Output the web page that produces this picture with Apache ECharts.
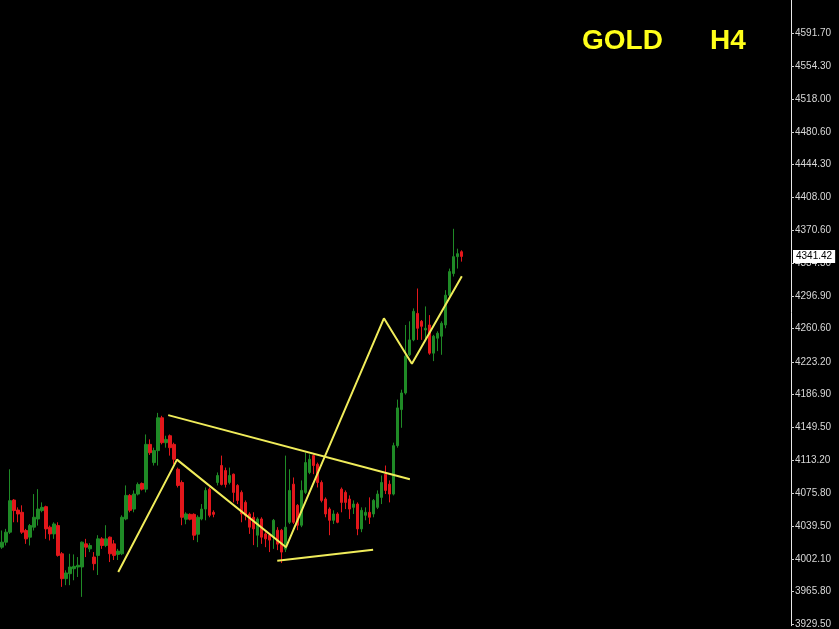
<!DOCTYPE html>
<html>
<head>
<meta charset="utf-8">
<script src="https://cdn.jsdelivr.net/npm/echarts@6/dist/echarts.min.js"></script>
<style>html,body{margin:0;padding:0;background:#000;}#c{width:839px;height:629px;}</style>
</head>
<body>
<div id="c"></div>
<script>
const totalSlots = 198;
const openP = [4015.6,4021.2,4032.4,4068.4,4057.2,4054.7,4034.3,4026.8,4038.0,4047.2,
4056.6,4061.0,4038.0,4030.5,4039.8,4008.2,3980.3,3985.9,3991.5,3993.4,
3993.4,4019.3,4013.7,4004.5,4006.4,4024.9,4017.5,4026.8,4019.3,4007.5,
4008.2,4047.2,4073.6,4058.3,4075.1,4087.0,4080.6,4130.8,4110.4,4123.8,
4160.6,4132.7,4140.5,4130.8,4102.9,4088.1,4046.9,4052.4,4052.4,4030.1,
4047.2,4058.3,4080.6,4054.7,4088.1,4107.1,4101.5,4088.1,4097.4,4084.8,
4077.0,4065.8,4052.8,4049.1,4029.0,4047.2,4030.5,4029.0,4026.8,4034.6,
4034.6,4013.4,4043.5,4086.2,4062.5,4040.2,4077.0,4099.3,4118.2,4108.5,
4088.1,4069.5,4058.3,4045.7,4052.8,4080.6,4077.0,4069.5,4060.2,4063.9,
4036.1,4051.3,4054.7,4052.8,4060.2,4071.4,4097.4,4086.2,4075.1,4129.4,
4169.8,4188.4,4231.2,4247.9,4277.6,4268.7,4259.0,4264.6,4233.0,4249.8,
4252.0,4264.6,4298.0,4322.2,4341.2,4346.7];
const closeP = [4021.2,4032.4,4067.7,4056.6,4052.8,4032.4,4024.9,4039.8,4049.1,4058.3,
4060.2,4036.1,4030.5,4041.6,4006.4,3980.3,3986.7,3993.4,3994.1,3995.3,
4021.2,4015.6,4017.5,3997.1,4024.9,4017.5,4024.9,4008.2,4006.4,4011.2,
4049.1,4073.6,4056.9,4075.1,4085.9,4080.6,4130.8,4121.5,4123.8,4160.6,
4132.7,4136.4,4127.1,4114.1,4084.8,4049.1,4052.8,4046.9,4029.0,4049.1,
4058.3,4079.2,4051.3,4052.4,4095.9,4085.9,4085.9,4095.9,4077.0,4068.0,
4052.8,4051.3,4038.0,4036.1,4047.2,4026.8,4024.9,4023.5,4045.7,4019.0,
4010.1,4038.0,4079.2,4043.5,4040.2,4079.2,4110.4,4114.1,4107.1,4088.1,
4068.0,4052.8,4045.7,4052.8,4043.5,4065.8,4065.8,4058.3,4063.9,4036.1,
4056.9,4054.7,4049.1,4068.0,4075.1,4088.1,4079.2,4075.1,4129.4,4171.7,
4188.4,4229.7,4247.9,4279.9,4260.9,4263.1,4260.9,4233.0,4252.0,4255.3,
4266.5,4298.0,4324.4,4341.2,4344.5,4341.42];
const lowP = [4013.7,4017.5,4030.5,4043.5,4043.5,4030.5,4019.3,4017.5,4034.3,4039.8,
4054.7,4024.9,4023.1,4024.9,4005.0,3971.1,3973.0,3973.0,3978.5,3982.2,
3959.9,4004.5,4010.1,3989.7,3984.4,4013.7,4015.6,3998.9,4001.2,4001.2,
4006.7,4045.7,4054.7,4054.7,4073.6,4079.2,4077.0,4119.0,4107.1,4107.1,
4130.8,4127.1,4118.2,4108.5,4082.5,4040.2,4041.3,4045.7,4023.5,4021.2,
4045.7,4045.7,4049.1,4049.1,4084.8,4084.8,4082.5,4085.9,4065.8,4063.9,
4043.5,4045.7,4030.5,4017.9,4015.6,4019.3,4015.6,4010.1,4013.7,4012.3,
3997.8,4010.1,4041.6,4041.6,4034.6,4038.0,4075.1,4097.4,4097.4,4082.5,
4065.8,4049.1,4029.0,4041.6,4042.4,4054.7,4058.3,4047.2,4052.8,4029.0,
4032.4,4045.7,4041.6,4049.1,4058.3,4063.9,4075.1,4065.8,4073.6,4127.1,
4149.4,4186.6,4229.7,4246.4,4247.9,4247.9,4246.4,4231.2,4224.1,4235.3,
4231.2,4260.9,4294.4,4318.9,4327.8,4335.6];
const highP = [4034.3,4036.1,4102.9,4069.5,4060.2,4062.5,4036.1,4041.6,4075.1,4080.6,
4065.8,4062.1,4039.8,4043.5,4043.5,4010.1,3989.7,4008.2,4007.5,4004.5,
4022.0,4024.9,4020.1,4010.1,4029.0,4026.8,4040.2,4027.5,4023.5,4013.7,
4051.3,4084.8,4075.1,4079.2,4088.1,4088.1,4141.9,4136.4,4127.1,4166.1,
4162.8,4140.5,4141.9,4132.7,4104.8,4090.4,4054.7,4053.5,4053.5,4051.3,
4063.9,4082.5,4082.5,4056.9,4099.3,4118.2,4104.8,4104.8,4098.1,4086.2,
4079.2,4068.0,4054.7,4054.7,4049.1,4049.1,4032.4,4030.5,4047.2,4038.0,
4036.1,4118.2,4102.9,4093.7,4063.9,4090.4,4121.5,4119.6,4119.6,4110.4,
4090.4,4071.4,4060.2,4056.9,4054.7,4082.5,4079.2,4073.6,4068.0,4065.8,
4060.2,4060.2,4071.4,4069.5,4079.2,4095.9,4107.1,4090.4,4132.7,4181.0,
4192.1,4264.6,4268.7,4283.2,4305.5,4270.2,4285.4,4275.7,4253.5,4257.5,
4268.7,4303.6,4327.8,4372.4,4350.1,4348.3];
const tickLabels = ['3929.50','3965.80','4002.10','4039.50','4075.80','4113.20','4149.50','4186.90','4223.20','4260.60','4296.90','4334.30','4370.60','4408.00','4444.30','4480.60','4518.00','4554.30','4591.70'];
const lastPrice = 4341.42;
const zigzagX = [29.6, 44.3, 71.6, 96.1, 103.1, 115.6];
const zigzagY = [3987.8, 4113.7, 4015.6, 4272.1, 4221.1, 4319.2];
const upperX = [42.1, 102.6];
const upperY = [4163.6, 4091.8];
const lowerX = [69.4, 93.4];
const lowerY = [4000.4, 4012.6];

const categories = [];
for (let i = 0; i < totalSlots; i++) categories.push(String(i));
const candles = openP.map((o, i) => [o, closeP[i], lowP[i], highP[i]]);
const pts = (xs, ys) => xs.map((x, i) => [x, ys[i]]);
const YEL = '#f0ec5a';
const lineStyle = { color: YEL, width: 2 };
const FONT = 'Liberation Sans, Arial, sans-serif';

const chart = echarts.init(document.getElementById('c'), null, { renderer: 'canvas' });
chart.setOption({
  backgroundColor: '#000',
  animation: false,
  title: [
    { text: 'GOLD', left: 577, top: 22, textStyle: { color: '#ffff1a', fontSize: 28, fontWeight: 'bold', fontFamily: FONT } },
    { text: 'H4', left: 705, top: 22, textStyle: { color: '#ffff1a', fontSize: 28, fontWeight: 'bold', fontFamily: FONT } }
  ],
  grid: { left: 0, right: 48, top: 0, bottom: 0 },
  xAxis: [
    { type: 'category', data: categories, show: false, boundaryGap: true },
    { type: 'value', min: 0, max: totalSlots, show: false }
  ],
  yAxis: {
    type: 'value', position: 'right', min: 3927.6, max: 4628.8, scale: true,
    splitLine: { show: false },
    axisLine: { show: true, onZero: false, lineStyle: { color: '#e8e8e8', width: 1 } },
    axisTick: { show: true, length: 3, lineStyle: { color: '#d0d0d0' }, customValues: tickLabels.map(Number) },
    axisLabel: { show: true, color: '#d8d8d8', fontSize: 10, margin: 4, fontFamily: FONT,
      customValues: tickLabels.map(Number), formatter: v => Number(v).toFixed(2) }
  },
  series: [
    {
      type: 'candlestick', data: candles, barWidth: 3,
      itemStyle: { color: '#1f8a26', color0: '#e3171b', borderColor: '#1f8a26', borderColor0: '#e3171b', borderWidth: 1 },
      markLine: {
        silent: true, symbol: ['none', 'none'], animation: false,
        lineStyle: { color: 'rgba(0,0,0,0)', width: 0 },
        label: { show: true, position: 'end', distance: 2, backgroundColor: '#ffffff', color: '#000', fontSize: 10,
          fontFamily: FONT, padding: [2, 3, 1, 3], formatter: () => lastPrice.toFixed(2) },
        data: [{ yAxis: lastPrice }]
      }
    },
    { type: 'line', xAxisIndex: 1, data: pts(zigzagX, zigzagY), symbol: 'none', lineStyle: lineStyle, z: 5 },
    { type: 'line', xAxisIndex: 1, data: pts(upperX, upperY), symbol: 'none', lineStyle: lineStyle, z: 5 },
    { type: 'line', xAxisIndex: 1, data: pts(lowerX, lowerY), symbol: 'none', lineStyle: lineStyle, z: 5 }
  ]
});
</script>
</body>
</html>
